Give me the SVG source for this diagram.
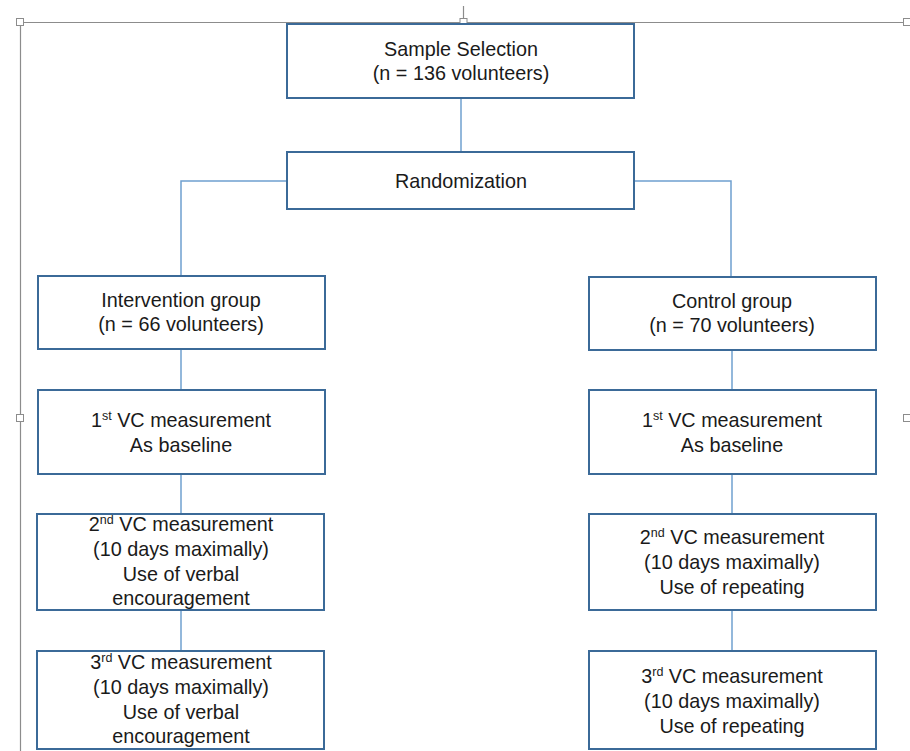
<svg xmlns="http://www.w3.org/2000/svg" width="910" height="751" viewBox="0 0 910 751">
<style>
  .box { fill: #ffffff; stroke: #3b6a98; stroke-width: 2; }
  .conn { fill: none; stroke: #6fa0cf; stroke-width: 1.5; }
  .frame { fill: none; stroke: #8c8c8c; stroke-width: 1.2; }
  .handle { fill: #ffffff; stroke: #8c8c8c; stroke-width: 1; }
  text { font-family: "Liberation Sans", Arial, sans-serif; font-size: 19.8px; fill: #1a1a1a; text-anchor: middle; }
  .sup { font-size: 12.5px; }
</style>
<rect width="910" height="751" fill="#ffffff"/>
<g id="frame">
  <line class="frame" x1="20" y1="22.5" x2="910" y2="22.5"/>
  <line class="frame" x1="20.5" y1="22" x2="20.5" y2="751"/>
  <line class="frame" x1="463.5" y1="6" x2="463.5" y2="19"/>
  <rect class="handle" x="16.5" y="18.5" width="7" height="7"/>
  <rect class="handle" x="460" y="18.5" width="7" height="7"/>
  <rect class="handle" x="903.5" y="18.5" width="7" height="7"/>
  <rect class="handle" x="16.5" y="414.5" width="7" height="7"/>
  <rect class="handle" x="903.5" y="414.5" width="7" height="7"/>
</g>
<g id="connectors">
  <line class="conn" x1="461" y1="98" x2="461" y2="152"/>
  <polyline class="conn" points="287,181 181,181 181,276"/>
  <polyline class="conn" points="634,181 731,181 731,277"/>
  <line class="conn" x1="181" y1="349" x2="181" y2="390"/>
  <line class="conn" x1="732" y1="350" x2="732" y2="390"/>
  <line class="conn" x1="181" y1="474" x2="181" y2="514"/>
  <line class="conn" x1="732" y1="474" x2="732" y2="514"/>
  <line class="conn" x1="181" y1="610" x2="181" y2="651"/>
  <line class="conn" x1="732" y1="610" x2="732" y2="651"/>
</g>
<g id="sample">
  <rect class="box" x="287" y="24" width="347" height="74"/>
  <text x="461" y="56">Sample Selection</text>
  <text x="461" y="80">(n = 136 volunteers)</text>
</g>
<g id="randomization">
  <rect class="box" x="287" y="152" width="347" height="57"/>
  <text x="461" y="188">Randomization</text>
</g>
<g id="intervention">
  <rect class="box" x="38" y="276" width="287" height="73"/>
  <text x="181" y="307">Intervention group</text>
  <text x="181" y="331">(n = 66 volunteers)</text>
</g>
<g id="control">
  <rect class="box" x="589" y="277" width="287" height="73"/>
  <text x="732" y="308">Control group</text>
  <text x="732" y="332">(n = 70 volunteers)</text>
</g>
<g id="int-vc1">
  <rect class="box" x="38" y="390" width="287" height="84"/>
  <text x="181" y="427">1<tspan class="sup" dy="-7">st</tspan><tspan dy="7"> VC measurement</tspan></text>
  <text x="181" y="452">As baseline</text>
</g>
<g id="ctl-vc1">
  <rect class="box" x="589" y="390" width="287" height="84"/>
  <text x="732" y="427">1<tspan class="sup" dy="-7">st</tspan><tspan dy="7"> VC measurement</tspan></text>
  <text x="732" y="452">As baseline</text>
</g>
<g id="int-vc2">
  <rect class="box" x="37" y="514" width="287" height="96"/>
  <text x="181" y="531">2<tspan class="sup" dy="-7">nd</tspan><tspan dy="7"> VC measurement</tspan></text>
  <text x="181" y="556">(10 days maximally)</text>
  <text x="181" y="581">Use of verbal</text>
  <text x="181" y="605">encouragement</text>
</g>
<g id="ctl-vc2">
  <rect class="box" x="589" y="514" width="287" height="96"/>
  <text x="732" y="544">2<tspan class="sup" dy="-7">nd</tspan><tspan dy="7"> VC measurement</tspan></text>
  <text x="732" y="569">(10 days maximally)</text>
  <text x="732" y="594">Use of repeating</text>
</g>
<g id="int-vc3">
  <rect class="box" x="37" y="651" width="287" height="98"/>
  <text x="181" y="669">3<tspan class="sup" dy="-7">rd</tspan><tspan dy="7"> VC measurement</tspan></text>
  <text x="181" y="694">(10 days maximally)</text>
  <text x="181" y="719">Use of verbal</text>
  <text x="181" y="743">encouragement</text>
</g>
<g id="ctl-vc3">
  <rect class="box" x="589" y="651" width="287" height="98"/>
  <text x="732" y="683">3<tspan class="sup" dy="-7">rd</tspan><tspan dy="7"> VC measurement</tspan></text>
  <text x="732" y="708">(10 days maximally)</text>
  <text x="732" y="733">Use of repeating</text>
</g>
</svg>
